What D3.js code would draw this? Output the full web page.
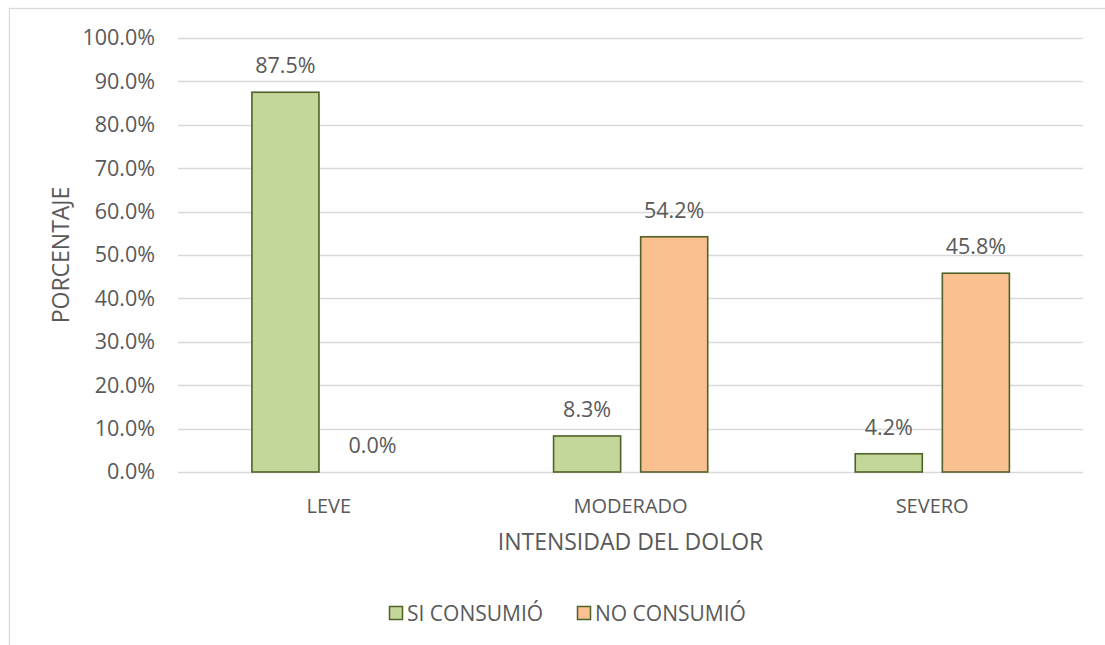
<!DOCTYPE html>
<html>
<head>
<meta charset="utf-8">
<script src="https://cdn.jsdelivr.net/npm/d3@7"></script>
<style>
  html, body { margin: 0; padding: 0; background: #fff; }
  svg text { font-family: "Open Sans", "Noto Sans", sans-serif; fill: #595959; }
</style>
</head>
<body>
<svg id="chart" width="1105" height="645"></svg>
<script>
const categories = ["LEVE", "MODERADO", "SEVERO"];
const seriesNames = ["SI CONSUMIÓ", "NO CONSUMIÓ"];
const siConsumio = [0.875, 0.083, 0.042];
const noConsumio = [0.0, 0.542, 0.458];
const yTicks = [0, 0.1, 0.2, 0.3, 0.4, 0.5, 0.6, 0.7, 0.8, 0.9, 1.0];
const colors = ["#C4D79B", "#FAC090"];

const seriesValues = [siConsumio, noConsumio];
const data = categories.map((c, i) => ({
  cat: c,
  vals: seriesNames.map((s, j) => ({ series: s, idx: j, value: seriesValues[j][i] }))
}));

const svg = d3.select("#chart");
const plot = { left: 178, right: 1083, top: 38, bottom: 472 };

// outer border
svg.append("rect")
  .attr("x", 9.5).attr("y", 8.5)
  .attr("width", 1110).attr("height", 660)
  .attr("fill", "none").attr("stroke", "#d9d9d9").attr("stroke-width", 1.3);

const x = d3.scaleBand().domain(categories).range([plot.left, plot.right]).padding(0);
const bw = x.bandwidth();
const xSub = d3.scaleBand().domain(seriesNames)
  .range([bw * 0.245, bw * 0.756]).paddingInner(0.23).paddingOuter(0);
const y = d3.scaleLinear().domain([0, 1]).range([plot.bottom, plot.top]);

// gridlines
svg.append("g")
  .selectAll("line").data(yTicks).join("line")
  .attr("x1", plot.left).attr("x2", plot.right)
  .attr("y1", d => Math.round(y(d)) + 0.5).attr("y2", d => Math.round(y(d)) + 0.5)
  .attr("stroke", "#d9d9d9").attr("stroke-width", 1.3);

// y axis labels
const yAxis = d3.axisLeft(y).tickValues(yTicks).tickFormat(d3.format(".1%")).tickSize(0).tickPadding(0);
const gy = svg.append("g").attr("transform", `translate(${plot.left - 23},0)`).call(yAxis);
gy.select(".domain").remove();
gy.selectAll("text").style("font-size", "21.5px").attr("fill", "#595959")
  .style("font-family", "'Open Sans', sans-serif");

// bars
const groups = svg.append("g").selectAll("g").data(data).join("g")
  .attr("transform", d => `translate(${x(d.cat)},0)`);

groups.selectAll("rect").data(d => d.vals).join("rect")
  .attr("x", d => xSub(d.series))
  .attr("y", d => y(d.value))
  .attr("width", xSub.bandwidth())
  .attr("height", d => y(0) - y(d.value))
  .attr("fill", d => colors[d.idx])
  .attr("stroke", "#4F6228").attr("stroke-width", d => d.value > 0 ? 1.6 : 0);

groups.selectAll("text").data(d => d.vals).join("text")
  .attr("x", d => xSub(d.series) + xSub.bandwidth() / 2)
  .attr("y", d => y(d.value) - 19)
  .attr("text-anchor", "middle")
  .style("font-size", "21.5px")
  .text(d => d3.format(".1%")(d.value));

// x axis category labels
const xAxis = d3.axisBottom(x).tickSize(0).tickPadding(0);
const gx = svg.append("g").attr("transform", `translate(0,513)`).call(xAxis);
gx.select(".domain").remove();
gx.selectAll("text").style("font-size", "20px").attr("fill", "#595959")
  .attr("y", 0).attr("dy", 0)
  .style("font-family", "'Open Sans', sans-serif");

// axis titles
svg.append("text")
  .attr("x", (plot.left + plot.right) / 2).attr("y", 550)
  .attr("text-anchor", "middle")
  .style("font-size", "23px")
  .text("INTENSIDAD DEL DOLOR");

svg.append("text")
  .attr("transform", `translate(69,${(plot.top + plot.bottom) / 2}) rotate(-90)`)
  .attr("text-anchor", "middle")
  .style("font-size", "23px")
  .text("PORCENTAJE");

// legend
const legendX = [389, 577];
const lg = svg.append("g").selectAll("g").data(seriesNames).join("g")
  .attr("transform", (d, i) => `translate(${legendX[i]},606)`);
lg.append("rect").attr("x", 0.5).attr("y", 0.5).attr("width", 13).attr("height", 13)
  .attr("fill", (d, i) => colors[i]).attr("stroke", "#4F6228").attr("stroke-width", 1.5);
lg.append("text").attr("x", 18).attr("y", 14.5)
  .style("font-size", "21px")
  .text(d => d);
</script>
</body>
</html>
